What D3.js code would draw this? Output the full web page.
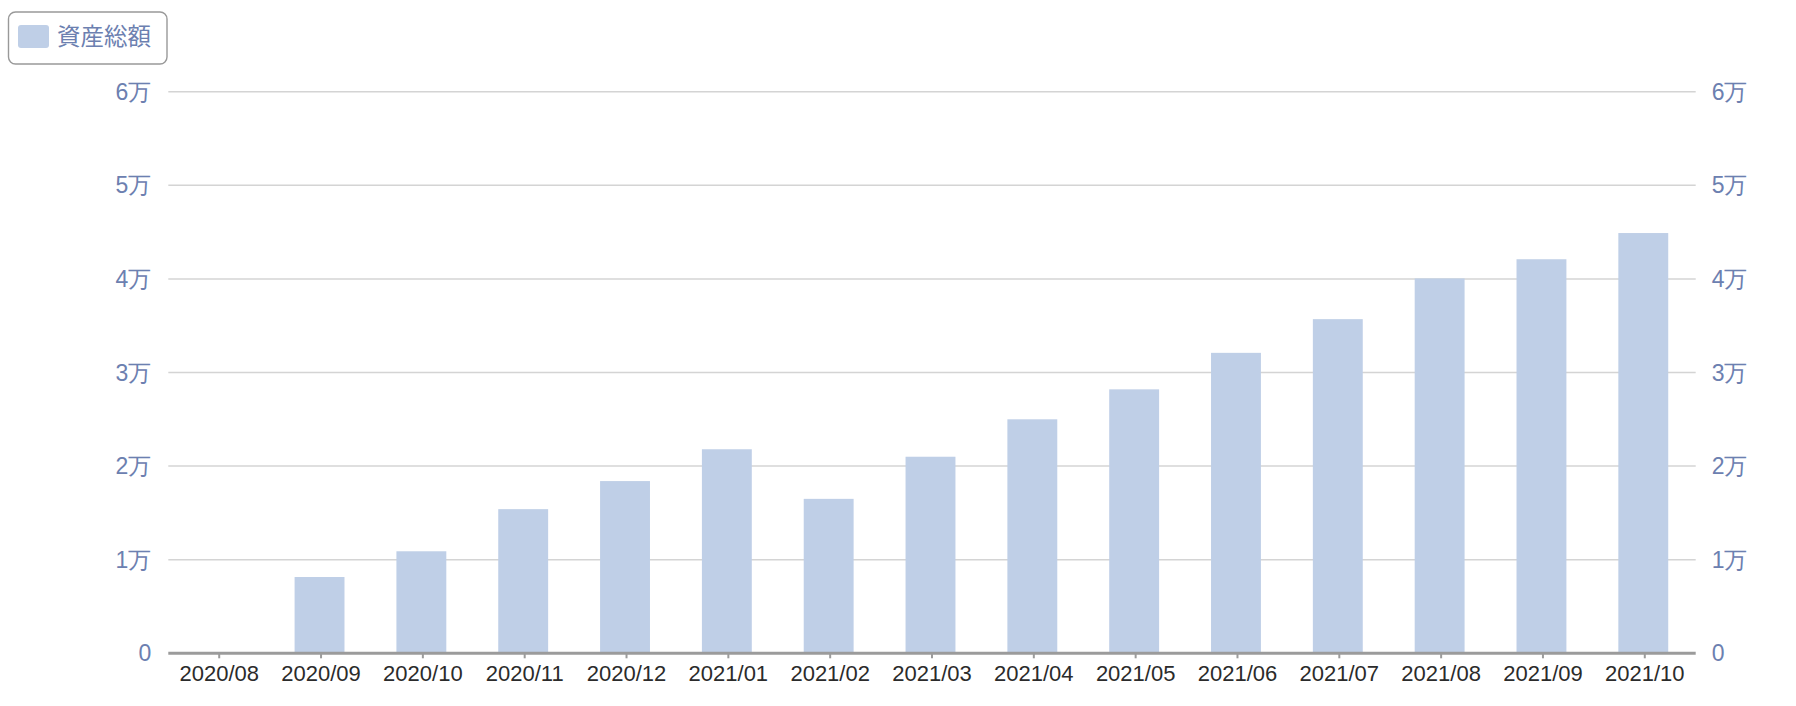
<!DOCTYPE html>
<html>
<head>
<meta charset="utf-8">
<script src="https://cdn.jsdelivr.net/npm/d3@7"></script>
<style>
  html, body { margin: 0; padding: 0; background: #fff; }
  svg { display: block; font-family: "Liberation Sans", Arial, "Noto Sans CJK JP", sans-serif; }
</style>
</head>
<body>
<svg id="chart" width="1796" height="706"></svg>
<script>
const categories = ["2020/08","2020/09","2020/10","2020/11","2020/12","2021/01","2021/02","2021/03","2021/04","2021/05","2021/06","2021/07","2021/08","2021/09","2021/10"];
const assetValues = [0, 8150, 10900, 15400, 18400, 21800, 16500, 21000, 25000, 28200, 32100, 35700, 40050, 42100, 44900];
const yTicks = [0, 10000, 20000, 30000, 40000, 50000, 60000];
const seriesName = "資産総額";

const W = 1796, H = 706;
const margin = { left: 168.3, right: W - 1695.7, top: 91.7, bottom: H - 653.3 };
const barColor = "#bfcfe7";
const labelBlue = "#6c80b0";
const barShift = -1.5;

const svg = d3.select("#chart");

const x = d3.scaleBand()
  .domain(categories)
  .range([margin.left, W - margin.right])
  .paddingInner(0.51)
  .paddingOuter(0.255);

const y = d3.scaleLinear()
  .domain([0, 60000])
  .range([H - margin.bottom, margin.top]);

const fmt = v => v === 0 ? "0" : (v / 10000) + "万";

// grid lines
svg.append("g")
  .selectAll("line")
  .data(yTicks.filter(d => d !== 0))
  .join("line")
  .attr("x1", margin.left)
  .attr("x2", W - margin.right)
  .attr("y1", d => y(d))
  .attr("y2", d => y(d))
  .attr("stroke", "#d4d4d4")
  .attr("stroke-width", 1.5);

// bars
svg.append("g")
  .selectAll("rect")
  .data(categories.map((c, i) => ({ c, v: assetValues[i] })).filter(d => d.v > 0))
  .join("rect")
  .attr("x", d => x(d.c) + barShift)
  .attr("width", x.bandwidth())
  .attr("y", d => y(d.v))
  .attr("height", d => y(0) - y(d.v))
  .attr("fill", barColor);

// left axis
const leftAxis = svg.append("g")
  .attr("transform", `translate(${margin.left},0)`)
  .call(d3.axisLeft(y).tickValues(yTicks).tickFormat(fmt).tickSize(0).tickPadding(17));
leftAxis.select(".domain").remove();
leftAxis.selectAll("text")
  .attr("fill", labelBlue)
  .style("font-size", "23px")
  .attr("dy", "0.33em");

// right axis
const rightAxis = svg.append("g")
  .attr("transform", `translate(${W - margin.right},0)`)
  .call(d3.axisRight(y).tickValues(yTicks).tickFormat(fmt).tickSize(0).tickPadding(16));
rightAxis.select(".domain").remove();
rightAxis.selectAll("text")
  .attr("fill", labelBlue)
  .style("font-size", "23px")
  .attr("dy", "0.33em");

// bottom axis
const bottomAxis = svg.append("g")
  .attr("transform", `translate(0,${y(0)})`)
  .call(d3.axisBottom(x).tickSizeOuter(0).tickSizeInner(5).tickPadding(7));
bottomAxis.select(".domain")
  .attr("stroke", "#9b9b9b")
  .attr("stroke-width", 3)
  .attr("d", `M${margin.left},0H${W - margin.right}`);
bottomAxis.selectAll(".tick line")
  .attr("stroke", "#9b9b9b")
  .attr("stroke-width", 2);
bottomAxis.selectAll("text")
  .attr("fill", "#2b2b2b")
  .style("font-size", "22px");

// legend
const legend = svg.append("g");
legend.append("rect")
  .attr("x", 8.5).attr("y", 12)
  .attr("width", 158.5).attr("height", 52)
  .attr("rx", 7).attr("ry", 7)
  .attr("fill", "#fff")
  .attr("stroke", "#999")
  .attr("stroke-width", 1.4);
legend.append("rect")
  .attr("x", 18).attr("y", 25)
  .attr("width", 31).attr("height", 23)
  .attr("rx", 3).attr("ry", 3)
  .attr("fill", barColor);
legend.append("text")
  .attr("x", 57).attr("y", 36.5)
  .attr("dy", "0.35em")
  .attr("fill", labelBlue)
  .style("font-size", "23.5px")
  .style("font-family", "\"Noto Sans CJK JP\", sans-serif")
  .text(seriesName);
</script>
</body>
</html>
